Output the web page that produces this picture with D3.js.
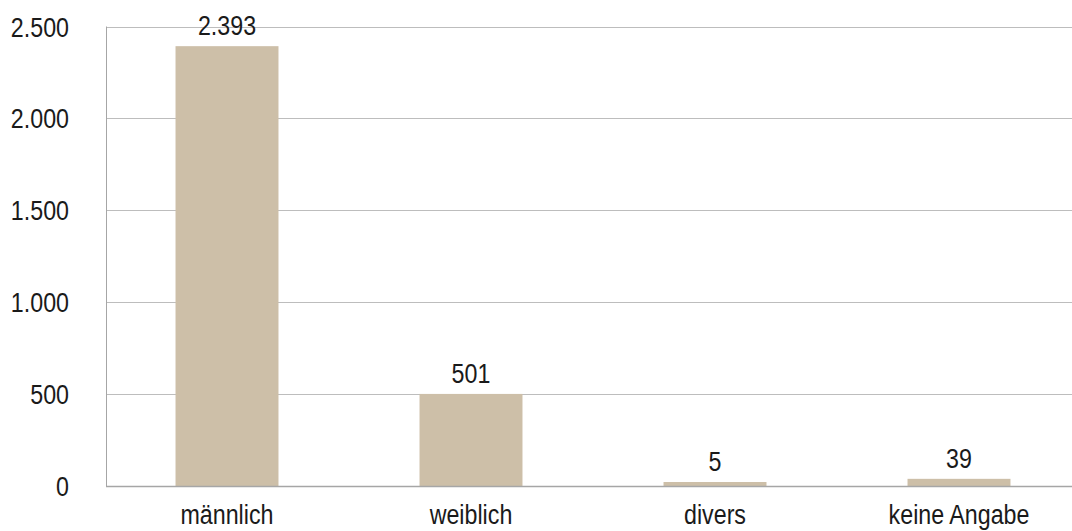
<!DOCTYPE html>
<html><head><meta charset="utf-8">
<script src="https://cdn.jsdelivr.net/npm/d3@7"></script>
<style>
html,body{margin:0;padding:0;background:#fff;}
text{font-family:"Liberation Sans","Arial",sans-serif;fill:#1a1a1a;}
</style></head>
<body><svg id="c" width="1072" height="531"></svg>
<script>
const categories = ["männlich","weiblich","divers","keine Angabe"];
const values = [2393, 501, 5, 39];
const valueLabels = ["2.393","501","5","39"];
const yTicks = [0, 500, 1000, 1500, 2000, 2500];
const yTickLabels = ["0","500","1.000","1.500","2.000","2.500"];

const svg = d3.select("#c");
const x = d3.scaleBand().domain(categories).range([105, 1081]).paddingInner(0.578).paddingOuter(0.289);
const y = d3.scaleLinear().domain([0, 2500]).range([486, 26.5]);
const FS = 28, SX = 0.83;

// gridlines
svg.append("g").selectAll("line").data(yTicks.slice(1)).join("line")
  .attr("x1", 106).attr("x2", 1072)
  .attr("y1", d => Math.round(y(d)) + 0.5).attr("y2", d => Math.round(y(d)) + 0.5)
  .attr("stroke", "#bdbdbd").attr("stroke-width", 1);

// y axis line
svg.append("line").attr("x1", 106.5).attr("x2", 106.5).attr("y1", y(2500)).attr("y2", y(0))
  .attr("stroke", "#a6a6a6").attr("stroke-width", 1);

// bars (minimum visible height as in the original rendering)
svg.append("g").selectAll("rect").data(values).join("rect")
  .attr("x", (d, i) => x(categories[i]))
  .attr("width", x.bandwidth())
  .attr("y", d => Math.min(y(d), y(0) - 4))
  .attr("height", d => Math.max(y(0) - y(d), 4))
  .attr("fill", "#cdbfa8");

// x axis line
svg.append("line").attr("x1", 106).attr("x2", 1072).attr("y1", 486.5).attr("y2", 486.5)
  .attr("stroke", "#a6a6a6").attr("stroke-width", 1.5);

// y tick labels
svg.append("g").selectAll("text").data(yTicks).join("text")
  .attr("transform", d => `translate(69,${y(d) + 10}) scale(${SX},1)`)
  .attr("text-anchor", "end").attr("font-size", FS)
  .text((d, i) => yTickLabels[i]);

// value labels
svg.append("g").selectAll("text").data(values).join("text")
  .attr("transform", (d, i) => `translate(${x(categories[i]) + x.bandwidth() / 2},${Math.min(y(d), y(0) - 4) - 11}) scale(${SX},1)`)
  .attr("text-anchor", "middle").attr("font-size", FS)
  .text((d, i) => valueLabels[i]);

// category labels
svg.append("g").selectAll("text").data(categories).join("text")
  .attr("transform", d => `translate(${x(d) + x.bandwidth() / 2},524) scale(${SX},1)`)
  .attr("text-anchor", "middle").attr("font-size", FS)
  .text(d => d);
</script></body></html>
